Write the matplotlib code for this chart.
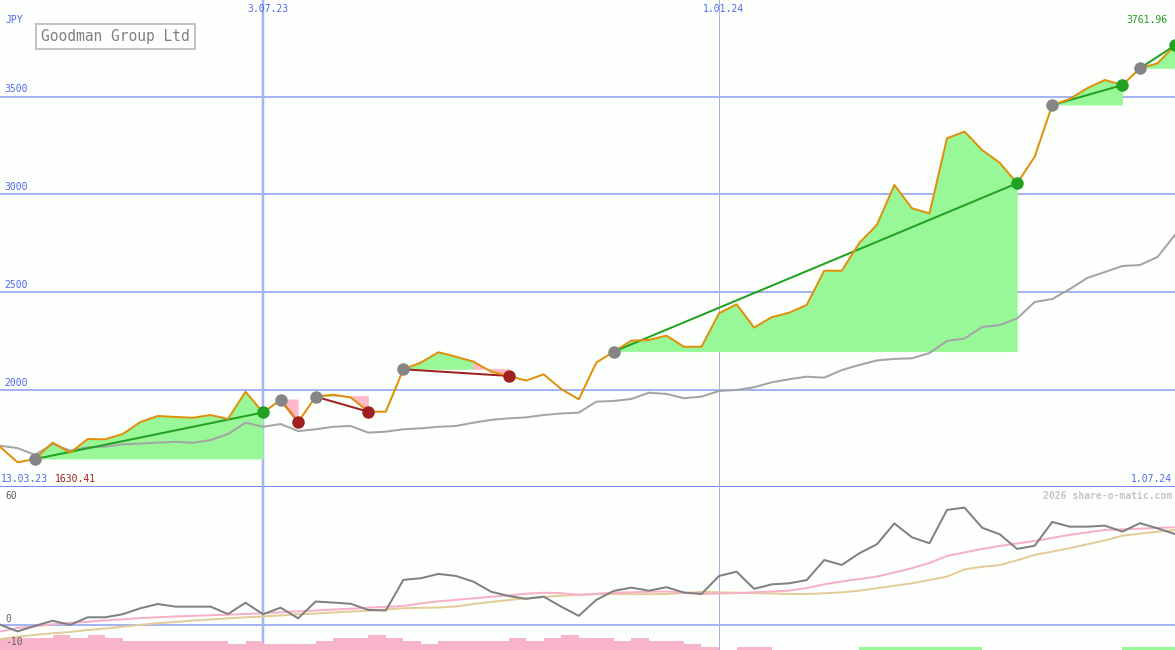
#!/usr/bin/env python3
"""
Goodman Group Ltd weekly chart, share-o-matic style.
Upper panel: price, moving average and trade segments.
Lower panel: oscillator with two smoothing lines and signal bars.
"""

import numpy as np
import pandas as pd
import matplotlib
matplotlib.use("Agg")
import matplotlib.pyplot as plt
import matplotlib.transforms as mtransforms

# ---- data (weekly, starting 20.03.23) ----
start_date = "2023-03-20"
n_weeks = 68

price = [1710, 1630.41, 1647, 1731, 1679, 1749, 1748, 1775, 1836, 1867,
         1862, 1858, 1872, 1852, 1991, 1885, 1949, 1836, 1966, 1976,
         1962, 1889, 1889, 2106, 2140, 2193, 2170, 2145, 2094, 2072,
         2048, 2080, 2005, 1952, 2140, 2196, 2252, 2256, 2278, 2221,
         2221, 2392, 2438, 2319, 2372, 2395, 2435, 2610, 2610, 2752,
         2844, 3048, 2929, 2903, 3287, 3321, 3227, 3162, 3057, 3193,
         3457, 3488, 3543, 3585, 3559, 3645, 3670, 3761.96]

avg_line = [1715, 1703, 1668, 1724, 1690, 1707, 1710, 1722, 1726, 1731,
            1735, 1730, 1744, 1775, 1833, 1812, 1826, 1790, 1799, 1812,
            1816, 1782, 1787, 1799, 1804, 1812, 1816, 1833, 1847, 1855,
            1860, 1872, 1880, 1884, 1940, 1944, 1954, 1986, 1980, 1958,
            1966, 1995, 2000, 2014, 2039, 2055, 2068, 2063, 2102, 2128,
            2151, 2159, 2162, 2189, 2251, 2263, 2322, 2332, 2366, 2450,
            2465, 2516, 2573, 2603, 2634, 2639, 2680, 2793]

# trade segments as (start week, end week)
trades = [(2, 15), (16, 17), (18, 21), (23, 29), (35, 58), (60, 64), (65, 67)]

osc = [0, -3.3, -0.6, 1.9, -0.1, 3.6, 3.6, 5.1, 8.0, 10.1,
       8.8, 8.8, 8.8, 5.2, 10.7, 5.1, 8.3, 3.1, 11.3, 10.8,
       10.2, 7.2, 6.9, 21.9, 22.7, 24.8, 23.8, 21.0, 16.1, 14.0,
       12.6, 13.7, 8.8, 4.3, 12.1, 16.5, 18.1, 16.6, 18.3, 15.7,
       15.0, 23.8, 25.9, 17.5, 19.7, 20.2, 21.8, 31.6, 29.2, 34.9,
       39.3, 49.5, 42.7, 39.8, 56.1, 57.2, 47.4, 44.2, 37.0, 38.6,
       50.2, 47.9, 47.9, 48.4, 45.5, 49.6, 47.1, 44.3]

osc_fast = [-3.4, -1.6, -0.9, 0.2, 0.9, 1.4, 2.1, 2.6, 3.2, 3.6,
            4.0, 4.3, 4.6, 4.9, 5.2, 5.6, 6.0, 6.5, 6.9, 7.4,
            7.8, 8.3, 8.7, 9.1, 10.4, 11.4, 12.1, 12.9, 13.6, 14.3,
            15.1, 15.6, 15.4, 14.6, 15.1, 15.6, 15.8, 16.1, 16.2, 15.6,
            15.0, 15.2, 15.4, 15.8, 16.2, 16.6, 17.9, 19.7, 21.1, 22.3,
            23.5, 25.5, 27.6, 30.2, 33.6, 35.3, 37.0, 38.5, 39.7, 40.9,
            42.4, 43.9, 45.1, 46.3, 46.6, 46.9, 47.3, 47.6]

osc_slow = [-7.1, -5.9, -5.0, -4.2, -3.6, -2.6, -1.9, -1.0, -0.1, 0.7,
            1.3, 2.0, 2.5, 3.1, 3.6, 4.0, 4.5, 5.1, 5.4, 6.0,
            6.4, 6.8, 7.4, 8.0, 8.2, 8.4, 8.9, 10.1, 11.1, 12.0,
            12.9, 13.5, 14.2, 14.5, 14.9, 15.0, 14.9, 14.9, 15.0, 15.5,
            16.0, 15.8, 15.6, 15.4, 15.2, 15.0, 15.0, 15.3, 15.8, 16.6,
            17.8, 19.0, 20.2, 21.8, 23.5, 27.0, 28.3, 29.1, 31.5, 34.1,
            35.7, 37.4, 39.3, 41.2, 43.5, 44.5, 45.4, 46.3]

# signal level per week, negative = pink, positive = green
signal = [-4, -4, -4, -5, -4, -5, -4, -3, -3, -3,
          -3, -3, -3, -2, -3, -2, -2, -2, -3, -4,
          -4, -5, -4, -3, -2, -3, -3, -3, -3, -4,
          -3, -4, -5, -4, -4, -3, -4, -3, -3, -2,
          -1, 0, -1, -1, 0, 0, 0, 0, 0, 1,
          1, 1, 1, 1, 1, 1, 0, 0, 0, 0,
          0, 0, 0, 0, 1, 1, 1, 1]

price_grid = [2000, 2500, 3000, 3500]
marked_dates = ["2023-07-03", "2024-01-01"]
title = "Goodman Group Ltd"
currency = "JPY"

# ---- style ----
W, H = 1175, 650
BG = "#fcfffc"
BLUE_TXT = "#5068f0"
GRID = "#a4b4f4"
SEP = "#7888f0"
ORANGE = "#e0900c"
GREEN = "#22a022"
RED = "#a02020"
FILL_G = "#98f898"
FILL_R = "#ffb8c8"
MONO = "DejaVu Sans Mono"
PX = 0.72  # one pixel in points at dpi 100


def fx(x):
    return x / W


def fy(y):
    return 1 - y / H


def short_date(d):
    return f"{d.day}.{d.month:02d}.{d.year % 100}"


def main():
    dates = pd.date_range(start_date, periods=n_weeks, freq="7D")
    x = np.arange(n_weeks)
    p = np.array(price)

    fig = plt.figure(figsize=(W / 100, H / 100), dpi=100, facecolor=BG)
    split = 487
    ax = fig.add_axes([0, fy(split), 1, split / H])
    axb = fig.add_axes([0, 0, 1, fy(split)])
    for a in (ax, axb):
        a.set_facecolor(BG)
        a.set_xlim(0, n_weeks - 1)
        a.set_xticks([])
        a.set_yticks([])
        for s in a.spines.values():
            s.set_visible(False)
    ax.set_ylim(1504, 3994)
    axb.set_ylim(-12.4, 67.3)

    # grid
    for g in price_grid:
        ax.axhline(g, color=GRID, lw=2 * PX, zorder=1)
    ax.axhline(1504, color=SEP, lw=3 * PX, zorder=1, clip_on=False)
    axb.axhline(0, color=GRID, lw=2 * PX, zorder=1)
    for k, d in enumerate(marked_dates):
        xi = (pd.Timestamp(d) - dates[0]).days / 7
        lw, col = (2.5 * PX, GRID) if k == 0 else (1 * PX, "#a8b0e0")
        for a in (ax, axb):
            a.axvline(xi, color=col, lw=lw, zorder=1)
        fig.text(fx(0) + (xi + 0.25) / (n_weeks - 1), fy(9), short_date(pd.Timestamp(d)),
                 ha="center", va="center", color=BLUE_TXT, fontsize=7, family=MONO)

    # trade segments
    for s, e in trades:
        lvl = p[s]
        for k in range(s, e):
            col = FILL_G if p[k + 1] >= lvl else FILL_R
            ax.fill([x[k], x[k], x[k + 1], x[k + 1]], [lvl, p[k], p[k + 1], lvl],
                    fc=col, ec=col, lw=0.6, joinstyle="bevel", snap=False, zorder=2)

    ax.plot(x, avg_line, color="#a4a4a4", lw=2 * PX, zorder=3)

    for s, e in trades:
        col = GREEN if p[e] >= p[s] else RED
        ax.plot([x[s], x[e]], [p[s], p[e]], color=col, lw=2 * PX, zorder=4)

    ax.plot(x, p, color=ORANGE, lw=2 * PX, zorder=5)

    for s, e in trades:
        col = GREEN if p[e] >= p[s] else RED
        ax.plot(x[s], p[s], "o", color="#858585", ms=9, mew=0, zorder=6)
        ax.plot(x[e], p[e], "o", color=col, ms=9, mew=0, zorder=6, clip_on=False)

    # price labels
    ytr = mtransforms.blended_transform_factory(ax.transAxes, ax.transData)
    for g in price_grid:
        ax.text(0.004, g + 12, str(g), transform=ytr, ha="left", va="bottom",
                color=BLUE_TXT, fontsize=7, family=MONO)

    # lower panel
    sig = np.array(signal) * 1.5
    bottom = axb.get_ylim()[0]
    axb.bar(x, np.abs(sig), width=1, align="edge", bottom=bottom,
            color=np.where(sig < 0, "#f8b4c8", FILL_G), lw=0, zorder=2)
    axb.plot(x, osc_slow, color="#e4cc98", lw=2 * PX, zorder=3)
    axb.plot(x, osc_fast, color="#f8b0c8", lw=2 * PX, zorder=3)
    axb.plot(x, osc, color="#808080", lw=2 * PX, zorder=4)

    # texts
    fig.text(fx(5), fy(20), currency, ha="left", va="center", color=BLUE_TXT, fontsize=7, family=MONO)
    fig.text(fx(115.5), fy(36.5), title, ha="center", va="center", color="#808080",
             fontsize=10.5, family=MONO,
             bbox=dict(boxstyle="square,pad=0.35", fc="none", ec="#c4c4c4", lw=2 * PX))
    fig.text(fx(1), fy(479), short_date(dates[0] - pd.Timedelta(days=7)), ha="left", va="center",
             color=BLUE_TXT, fontsize=7, family=MONO)
    fig.text(fx(55), fy(479), f"{min(price):.2f}", ha="left", va="center",
             color=RED, fontsize=7, family=MONO)
    fig.text(fx(1172), fy(479), short_date(dates[-1]), ha="right", va="center",
             color=BLUE_TXT, fontsize=7, family=MONO)
    fig.text(fx(1167), fy(20), f"{price[-1]:.2f}", ha="right", va="center",
             color=GREEN, fontsize=7, family=MONO)
    fig.text(fx(1172), fy(496), "2026 share-o-matic.com", ha="right", va="center",
             color="#c4c4c4", fontsize=7, family=MONO, fontweight="bold")
    for lab, yy in [("60", 496), ("0", 619), ("-10", 642)]:
        fig.text(fx(5), fy(yy), lab, ha="left", va="center", color="#606060", fontsize=7, family=MONO)

    fig.savefig("out.png", dpi=100, facecolor=BG)


if __name__ == "__main__":
    main()
